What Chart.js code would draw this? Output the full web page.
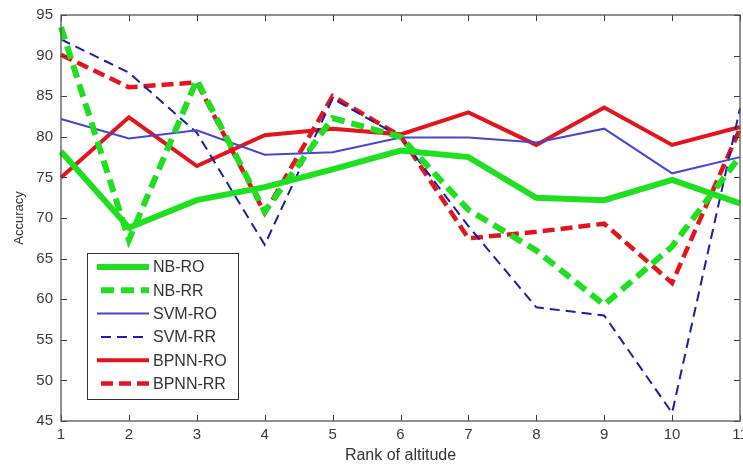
<!DOCTYPE html>
<html>
<head>
<meta charset="utf-8">
<script src="https://cdn.jsdelivr.net/npm/chart.js@4.4.1/dist/chart.umd.min.js"></script>
<style>
  html, body { margin: 0; padding: 0; background: #fff; }
  #wrap { width: 743px; height: 466px; position: relative; }
</style>
</head>
<body>
<div id="wrap"><canvas id="chart"></canvas></div>
<script>
// x categories: rank of altitude
const ranks = ['1', '2', '3', '4', '5', '6', '7', '8', '9', '10', '11'];

// accuracy per rank
const nbRO  = [78.2, 68.8, 72.2, 73.8, 76.0, 78.3, 77.5, 72.5, 72.2, 74.7, 71.8];
const nbRR  = [93.5, 67.3, 87.0, 70.8, 82.3, 80.0, 71.0, 66.0, 59.3, 66.5, 77.6];
const svmRO = [82.2, 79.8, 80.8, 77.8, 78.1, 79.9, 79.9, 79.3, 81.0, 75.5, 77.5];
const svmRR = [92.0, 87.9, 80.5, 66.7, 84.7, 80.0, 69.0, 59.0, 58.0, 46.0, 83.5];
const bpRO  = [75.0, 82.4, 76.4, 80.2, 81.0, 80.3, 83.0, 79.0, 83.6, 79.0, 81.2];
const bpRR  = [90.1, 86.1, 86.7, 70.6, 85.0, 80.1, 67.5, 68.3, 69.3, 62.0, 81.0];

const FONT = "'Liberation Sans', Arial, sans-serif";

// matlab style: box round the plot, ticks pointing inwards
const boxAxes = {
    id: 'boxAxes',
    afterDatasetsDraw(chart) {
        const { ctx, chartArea: a, scales } = chart;
        const len = 6;
        ctx.save();
        ctx.strokeStyle = '#3a3a3a';
        ctx.lineWidth = 1;
        ctx.beginPath();
        scales.x.ticks.forEach((t, i) => {
            const px = Math.round(scales.x.getPixelForTick(i)) + 0.5;
            ctx.moveTo(px, a.bottom); ctx.lineTo(px, a.bottom - len);
            ctx.moveTo(px, a.top); ctx.lineTo(px, a.top + len);
        });
        scales.y.ticks.forEach(t => {
            const py = Math.round(scales.y.getPixelForValue(t.value)) + 0.5;
            ctx.moveTo(a.left, py); ctx.lineTo(a.left + len, py);
            ctx.moveTo(a.right, py); ctx.lineTo(a.right - len, py);
        });
        ctx.stroke();
        ctx.strokeStyle = '#555';
        ctx.lineWidth = 1.3;
        ctx.strokeRect(a.left, a.top, a.right - a.left, a.bottom - a.top);
        ctx.restore();
    }
};

// legend box drawn inside the plot, lower left
const innerLegend = {
    id: 'innerLegend',
    afterDraw(chart) {
        const { ctx } = chart;
        const x0 = 87, y0 = 253, w = 151, h = 146;
        const rowH = 23.3, firstY = 267;
        ctx.save();
        ctx.fillStyle = '#fff';
        ctx.fillRect(x0, y0, w, h);
        ctx.strokeStyle = '#333';
        ctx.lineWidth = 1;
        ctx.strokeRect(x0 + 0.5, y0 + 0.5, w, h);
        ctx.font = '16px ' + FONT;
        ctx.textBaseline = 'middle';
        chart.data.datasets.forEach((ds, i) => {
            const y = firstY + i * rowH;
            ctx.strokeStyle = ds.borderColor;
            ctx.lineWidth = ds.borderWidth;
            ctx.setLineDash(ds.borderDash || []);
            ctx.lineDashOffset = ds.borderDash ? -4 : 0;
            ctx.beginPath();
            ctx.moveTo(97, y);
            ctx.lineTo(149, y);
            ctx.stroke();
            ctx.setLineDash([]);
            ctx.fillStyle = '#333';
            ctx.fillText(ds.label, 153, y + 1);
        });
        ctx.restore();
    }
};

new Chart(document.getElementById('chart'), {
    type: 'line',
    data: {
        labels: ranks,
        datasets: [
            { label: 'NB-RO', data: nbRO, borderColor: '#1fe01f', borderWidth: 6 },
            { label: 'NB-RR', data: nbRR, borderColor: '#1fe01f', borderWidth: 6, borderDash: [13, 7] },
            { label: 'SVM-RO', data: svmRO, borderColor: '#4646d2', borderWidth: 2 },
            { label: 'SVM-RR', data: svmRR, borderColor: '#1c1ca8', borderWidth: 2, borderDash: [10, 6] },
            { label: 'BPNN-RO', data: bpRO, borderColor: '#e4141c', borderWidth: 4 },
            { label: 'BPNN-RR', data: bpRR, borderColor: '#e4141c', borderWidth: 4.5, borderDash: [12, 6] }
        ]
    },
    options: {
        responsive: true,
        maintainAspectRatio: false,
        animation: false,
        elements: {
            point: { radius: 0 },
            line: { tension: 0, fill: false, borderCapStyle: 'butt', borderJoinStyle: 'miter' }
        },
        layout: { padding: { top: 15, right: 3, left: 0, bottom: 0 } },
        plugins: {
            legend: { display: false },
            tooltip: { enabled: false }
        },
        scales: {
            x: {
                offset: false,
                grid: { display: false, drawTicks: false },
                border: { display: false },
                ticks: { color: '#3a3a3a', font: { family: FONT, size: 15 }, padding: 5, maxRotation: 0, autoSkip: false },
                title: { display: true, text: 'Rank of altitude', color: '#333', font: { family: FONT, size: 16 }, padding: { top: 0, bottom: 1 } },
                afterFit(s) {
                    s.height = 45;
                    // let the last label run off the canvas like the original
                    s.paddingLeft = 0;
                    s.paddingRight = 0;
                }
            },
            y: {
                min: 45,
                max: 95,
                ticks: { stepSize: 5, color: '#3a3a3a', font: { family: FONT, size: 15 }, padding: 8 },
                grid: { display: false, drawTicks: false },
                border: { display: false },
                title: { display: true, text: 'Accuracy', color: '#333', font: { family: FONT, size: 13 }, padding: { top: 12, bottom: 0 } },
                afterFit(s) {
                    s.width = 61;
                    s.paddingTop = 0;
                    s.paddingBottom = 0;
                }
            }
        }
    },
    plugins: [boxAxes, innerLegend]
});
</script>
</body>
</html>
